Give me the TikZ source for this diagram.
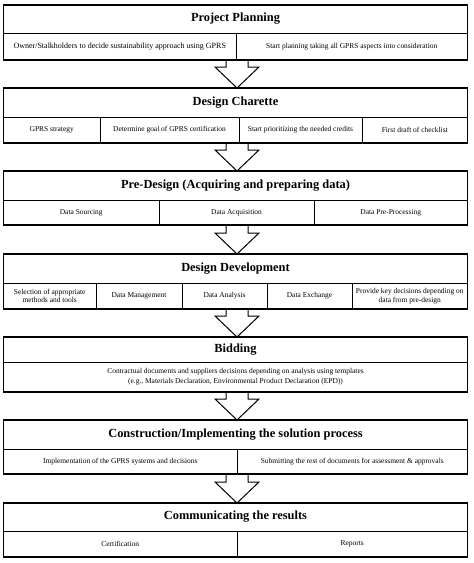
\documentclass[tikz,border=0pt]{standalone}
\usepackage{fontspec}
\setmainfont{Liberation Serif}
\usetikzlibrary{calc,fit}
\tikzset{
 x=1pt, y=1pt,
 cell/.style={draw, line width=0.7pt, inner sep=0pt, outer sep=0pt, align=center, font=\fontsize{7.45}{8.5}\selectfont},
 bigcell/.style={cell, font=\fontsize{8}{9}\selectfont},
 titlecell/.style={cell, font=\fontsize{12.4}{14}\selectfont\bfseries},
 outerbox/.style={draw, line width=1.4pt, inner sep=0pt, outer sep=0pt, fit=#1},
 flow/.style={draw, line width=1pt, line join=miter},
}
\newcommand\mycell[7][cell]{\node[#1, minimum width={(#4-#3)*1pt}, minimum height={(#6-#5)*1pt}] (#2) at ({(#3+#4)/2},{-(#5+#6)/2}) {#7};}
\newcommand\flowarrow[2]{\draw[flow] ($(#1.south)+(-9.5,0)$) -- ($(#2.north)+(-9.5,21)$) -- ($(#2.north)+(-20.5,21)$) -- ($(#2.north)+(1.5,0)$) -- ($(#2.north)+(23.5,21)$) -- ($(#2.north)+(12.5,21)$) -- ($(#1.south)+(12.5,0)$);}
\begin{document}
\begin{tikzpicture}
\fill[white] (0,0) rectangle (474,-563);
\useasboundingbox (0,0) rectangle (474,-563);
% Box 1
\mycell[titlecell]{t1}{3.5}{467.5}{5}{33}{Project Planning}
\mycell[bigcell]{c1a}{3.5}{236}{33}{60}{Owner/Stalkholders to decide sustainability approach using GPRS}
\mycell{c1b}{236}{467.5}{33}{60}{Start planning taking all GPRS aspects into consideration}
\node[outerbox={(t1)(c1a)(c1b)}] (b1) {};
% Box 2
\mycell[titlecell]{t2}{3.5}{467.5}{88}{117}{Design Charette}
\mycell{c2a}{3.5}{100}{117}{143}{GPRS strategy}
\mycell{c2b}{100}{239}{117}{143}{Determine goal of GPRS certification}
\mycell{c2c}{239}{362}{117}{143}{Start prioritizing the needed credits}
\mycell{c2d}{362}{467.5}{117}{143}{First draft of checklist}
\node[outerbox={(t2)(c2a)(c2d)}] (b2) {};
% Box 3
\mycell[titlecell]{t3}{3.5}{467.5}{171}{200}{Pre-Design (Acquiring and preparing data)}
\mycell{c3a}{3.5}{159}{200}{225}{Data Sourcing}
\mycell{c3b}{159}{314}{200}{225}{Data Acquisition}
\mycell{c3c}{314}{467.5}{200}{225}{Data Pre-Processing}
\node[outerbox={(t3)(c3a)(c3c)}] (b3) {};
% Box 4
\mycell[titlecell]{t4}{3.5}{467.5}{254}{283}{Design Development}
\mycell{c4a}{3.5}{96}{283}{309}{Selection of appropriate\\methods and tools}
\mycell{c4b}{96}{182}{283}{309}{Data Management}
\mycell{c4c}{182}{267}{283}{309}{Data Analysis}
\mycell{c4d}{267}{352}{283}{309}{Data Exchange}
\mycell{c4e}{352}{467.5}{283}{309}{Provide key decisions depending on\\data from pre-design}
\node[outerbox={(t4)(c4a)(c4e)}] (b4) {};
% Box 5
\mycell[titlecell]{t5}{3.5}{467.5}{337}{362}{Bidding}
\mycell{c5a}{3.5}{467.5}{362}{392}{Contractual documents and suppliers decisions depending on analysis using templates\\[1.5pt](e.g., Materials Declaration, Environmental Product Declaration (EPD))}
\node[outerbox={(t5)(c5a)}] (b5) {};
% Box 6
\mycell[titlecell]{t6}{3.5}{467.5}{420}{449}{Construction/Implementing the solution process}
\mycell{c6a}{3.5}{237}{449}{474}{Implementation of the GPRS systems and decisions}
\mycell{c6b}{237}{467.5}{449}{474}{Submitting the rest of documents for assessment \& approvals}
\node[outerbox={(t6)(c6a)(c6b)}] (b6) {};
% Box 7
\mycell[titlecell]{t7}{3.5}{467.5}{503}{531}{Communicating the results}
\mycell{c7a}{3.5}{237}{531}{557}{Certification}
\mycell{c7b}{237}{467.5}{531}{557}{Reports}
\node[outerbox={(t7)(c7a)(c7b)}] (b7) {};
% Arrows
\flowarrow{b1}{b2}
\flowarrow{b2}{b3}
\flowarrow{b3}{b4}
\flowarrow{b4}{b5}
\flowarrow{b5}{b6}
\flowarrow{b6}{b7}
\end{tikzpicture}
\end{document}
